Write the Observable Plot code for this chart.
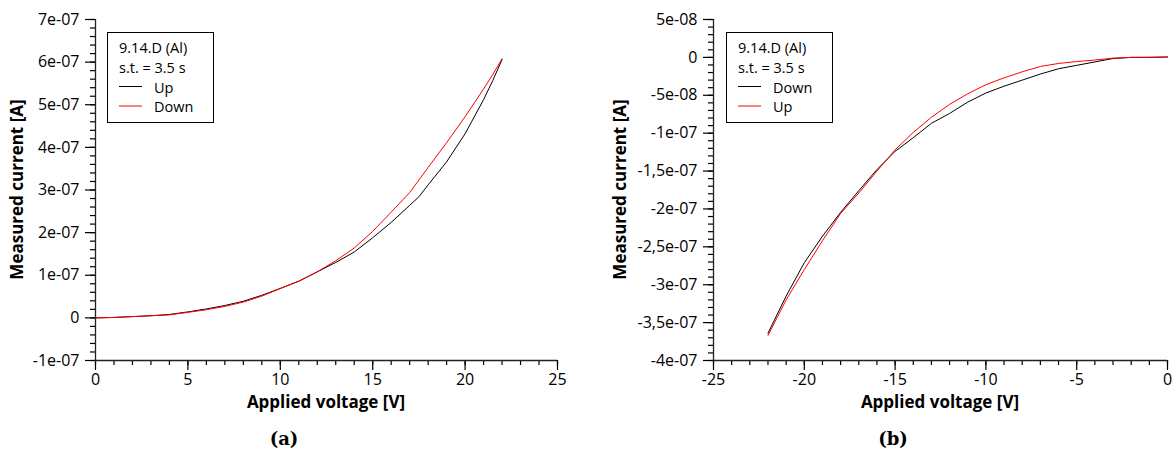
<!DOCTYPE html>
<html><head><meta charset="utf-8">
<script src="https://cdn.jsdelivr.net/npm/d3@7"></script>
<script src="https://cdn.jsdelivr.net/npm/@observablehq/plot@0.6"></script>
<style>
body{margin:0;background:#fff;}
#wrap{position:relative;width:1176px;height:458px;display:flex;}
.panel{position:relative;width:588px;height:458px;}
.cap{position:absolute;top:430px;transform:translateX(-50%);font-family:"DejaVu Serif",serif;font-weight:bold;font-size:18px;line-height:18px;}
</style></head>
<body>
<div id="wrap">
  <div class="panel" id="pa"><div class="cap" style="left:284px">(a)</div></div>
  <div class="panel" id="pb"><div class="cap" style="left:305px">(b)</div></div>
</div>
<script>
// ---------- Panel (a): positive sweep ----------
const aUpV   = [0,1,2,3,4,5,6,7,8,9,10,11,12,13,14,15,16,17,17.5,18,19,20,21,21.5,22];
const aUpI   = [0,0.01e-7,0.03e-7,0.05e-7,0.08e-7,0.14e-7,0.21e-7,0.29e-7,0.39e-7,0.53e-7,0.69e-7,0.86e-7,1.08e-7,1.30e-7,1.545e-7,1.88e-7,2.24e-7,2.64e-7,2.84e-7,3.12e-7,3.66e-7,4.32e-7,5.12e-7,5.57e-7,6.06e-7];
const aDownV = [0,1,2,3,4,5,6,7,8,9,10,11,12,13,14,15,16,17,18,19,20,21,21.5,22];
const aDownI = [0,0.01e-7,0.03e-7,0.05e-7,0.07e-7,0.13e-7,0.19e-7,0.27e-7,0.37e-7,0.51e-7,0.69e-7,0.86e-7,1.08e-7,1.34e-7,1.64e-7,2.03e-7,2.48e-7,2.94e-7,3.53e-7,4.11e-7,4.72e-7,5.37e-7,5.71e-7,6.08e-7];
const aXTicks = [0,5,10,15,20,25];
const aXLabels = ["0","5","10","15","20","25"];
const aYTicks = [-1e-7,0,1e-7,2e-7,3e-7,4e-7,5e-7,6e-7,7e-7];
const aYLabels = ["-1e-07","0","1e-07","2e-07","3e-07","4e-07","5e-07","6e-07","7e-07"];
const aLegend = ["Up","Down"];

// ---------- Panel (b): negative sweep ----------
const bV     = [-22,-21,-20,-19,-18,-17,-16,-15,-14,-13,-12,-11,-10,-9,-8,-7,-6,-5,-4,-3,-2,-1,0];
const bDownI = [-36.4e-8,-31.5e-8,-27.1e-8,-23.6e-8,-20.45e-8,-17.6e-8,-14.8e-8,-12.4e-8,-10.6e-8,-8.7e-8,-7.4e-8,-5.9e-8,-4.7e-8,-3.8e-8,-3.0e-8,-2.2e-8,-1.5e-8,-1.05e-8,-0.6e-8,-0.15e-8,0,0,0.05e-8];
const bUpI   = [-36.7e-8,-32.0e-8,-28.0e-8,-24.2e-8,-20.6e-8,-17.9e-8,-15.0e-8,-12.2e-8,-9.9e-8,-7.9e-8,-6.2e-8,-4.8e-8,-3.6e-8,-2.7e-8,-1.9e-8,-1.2e-8,-0.8e-8,-0.55e-8,-0.35e-8,-0.1e-8,0,0.02e-8,0.05e-8];
const bXTicks = [-25,-20,-15,-10,-5,0];
const bXLabels = ["-25","-20","-15","-10","-5","0"];
const bYTicks = [-4e-7,-3.5e-7,-3e-7,-2.5e-7,-2e-7,-1.5e-7,-1e-7,-5e-8,0,5e-8];
const bYLabels = ["-4e-07","-3,5e-07","-3e-07","-2,5e-07","-2e-07","-1,5e-07","-1e-07","-5e-08","0","5e-08"];
const bLegend = ["Down","Up"];

const sampleTitle = "9.14.D (Al)";
const sampleSub = "s.t. = 3.5 s";
const xLabel = "Applied voltage [V]";
const yLabel = "Measured current [A]";

function series(vs, is, name) { return vs.map((v, k) => ({v, i: is[k], name})); }

function makePanel(cfg) {
  const W = 588, H = 420;
  const lookup = (ticks, labels) => d => { const k = ticks.findIndex(t => Math.abs(t - d) < 1e-12 + Math.abs(d)*1e-9); return k >= 0 ? labels[k] : ""; };
  const plot = Plot.plot({
    width: W, height: H,
    marginLeft: cfg.ml, marginRight: cfg.mr, marginTop: 19, marginBottom: 60,
    style: {fontFamily: "'Open Sans', sans-serif", fontSize: "16px", color: "#000", background: "#fff", overflow: "visible"},
    x: {domain: cfg.xDomain},
    y: {domain: cfg.yDomain},
    marks: [
      Plot.axisX({ticks: cfg.xMinor, tickSize: 5, tickFormat: () => "", label: null, strokeWidth: 1.2}),
      Plot.axisX({ticks: cfg.xTicks, tickSize: 10, tickPadding: 3, tickFormat: lookup(cfg.xTicks, cfg.xLabels), label: null, strokeWidth: 1.2}),
      Plot.axisY({ticks: cfg.yMinor, tickSize: 5, tickFormat: () => "", label: null, strokeWidth: 1.2}),
      Plot.axisY({ticks: cfg.yTicks, tickSize: 10, tickPadding: 6, tickFormat: lookup(cfg.yTicks, cfg.yLabels), label: null, strokeWidth: 1.2}),
      Plot.ruleY([cfg.yDomain[0]], {stroke: "#222", strokeWidth: 1.3}),
      Plot.ruleX([cfg.xDomain[0]], {stroke: "#222", strokeWidth: 1.3}),
      Plot.line(cfg.first, {x: "v", y: "i", stroke: cfg.firstColor, strokeWidth: 1}),
      Plot.line(cfg.second, {x: "v", y: "i", stroke: cfg.secondColor, strokeWidth: 1})
    ]
  });
  const svg = d3.select(plot);
  const fx0 = cfg.ml, fx1 = W - cfg.mr;
  svg.append("text").attr("x", (fx0 + fx1) / 2).attr("y", 408)
    .attr("text-anchor", "middle").attr("font-weight", "bold").attr("font-size", 17).text(xLabel);
  svg.append("text").attr("transform", `translate(${cfg.yLabelX},${(19 + 360) / 2}) rotate(-90)`)
    .attr("text-anchor", "middle").attr("dominant-baseline", "middle").attr("font-weight", "bold").attr("font-size", 17).text(yLabel);
  // legend box
  const lx = cfg.legX, ly = 32;
  const g = svg.append("g").attr("font-size", 14.5).attr("text-anchor", "start");
  g.append("rect").attr("x", lx + 0.5).attr("y", ly + 0.5).attr("width", 106).attr("height", 90)
    .attr("fill", "#fff").attr("stroke", "#000").attr("stroke-width", 1);
  g.append("text").attr("x", lx + 12).attr("y", ly + 21).text(sampleTitle);
  g.append("text").attr("x", lx + 12).attr("y", ly + 41).text(sampleSub);
  [[cfg.legend[0], cfg.firstColor], [cfg.legend[1], cfg.secondColor]].forEach(([name, col], k) => {
    const yy = ly + 54.5 + k * 19.5;
    g.append("line").attr("x1", lx + 12).attr("x2", lx + 35).attr("y1", yy).attr("y2", yy).attr("stroke", col).attr("stroke-width", 1);
    g.append("text").attr("x", lx + 47).attr("y", yy + 6).text(name);
  });
  return plot;
}

document.getElementById("pa").prepend(makePanel({
  ml: 95, mr: 31, xDomain: [0, 25], yDomain: [-1e-7, 7e-7],
  xTicks: aXTicks, xLabels: aXLabels, yTicks: aYTicks, yLabels: aYLabels,
  xMinor: d3.range(0, 25.5, 1), yMinor: d3.range(-10, 71, 2).map(k => k * 1e-8),
  first: series(aUpV, aUpI, "Up"), second: series(aDownV, aDownI, "Down"),
  firstColor: "#000", secondColor: "#f00", legend: aLegend, legX: 107, yLabelX: 18
}));
document.getElementById("pb").prepend(makePanel({
  ml: 125, mr: 9, xDomain: [-25, 0], yDomain: [-4e-7, 5e-8],
  xTicks: bXTicks, xLabels: bXLabels, yTicks: bYTicks, yLabels: bYLabels,
  xMinor: d3.range(-25, 0.5, 1), yMinor: d3.range(-40, 6, 1).map(k => k * 1e-8),
  first: series(bV, bDownI, "Down"), second: series(bV, bUpI, "Up"),
  firstColor: "#000", secondColor: "#f00", legend: bLegend, legX: 138, yLabelX: 33
}));
</script>
</body></html>
